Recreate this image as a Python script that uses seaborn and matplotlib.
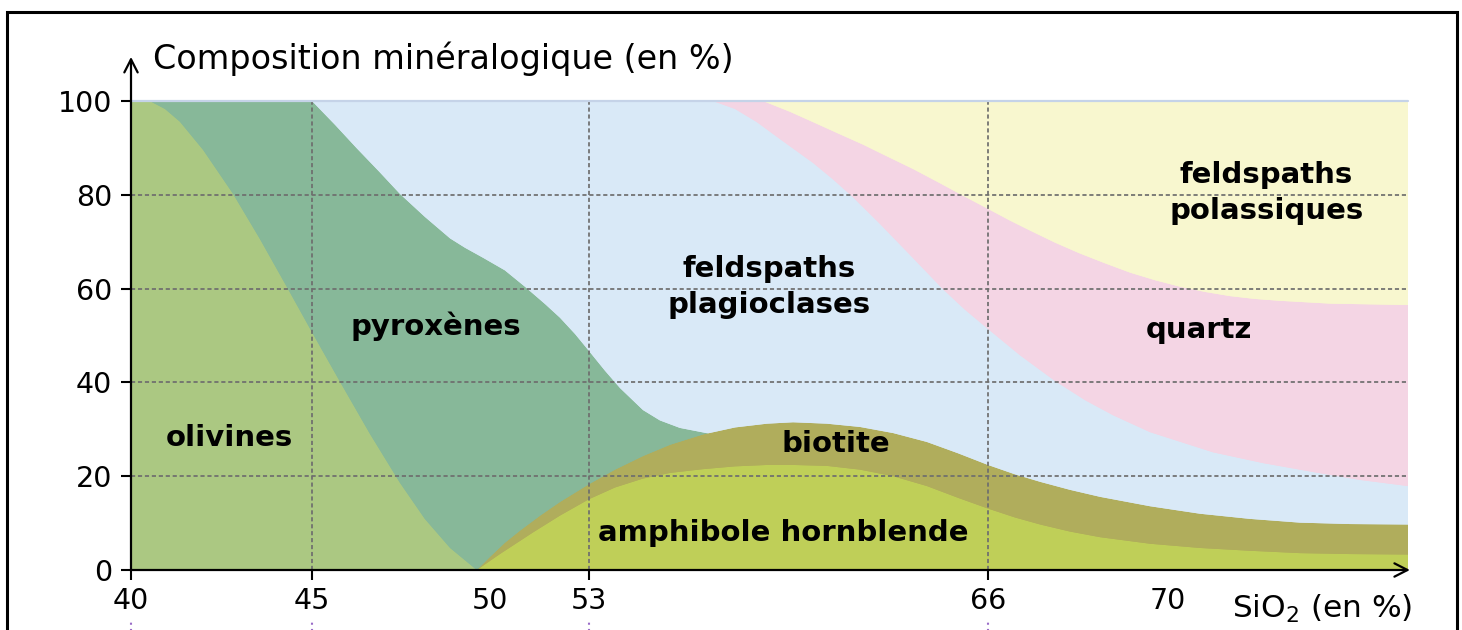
import numpy as np
import matplotlib
matplotlib.use("Agg")
import matplotlib.pyplot as plt
from matplotlib.patches import Rectangle, ArrowStyle
import seaborn as sns
import seaborn.objects as so

# ---------------- data (SiO2 % -> cumulative mineral %) ----------------
x_ticks = [40, 45, 50, 53, 66, 70]
x_tick_labels = ["40", "45", "50", "53", "66", "70"]
y_ticks = [0, 20, 40, 60, 80, 100]
grid_x = [45, 53, 66]
grid_y = [20, 40, 60, 80]

sio2_kfeld = [40, 75.33]
pct_kfeld = [100, 100]

sio2_quartz = [40, 58.67, 59.55, 60.3, 61.11, 61.93, 62.74, 63.56, 64.37, 65.19, 66,
               66.49, 66.93, 67.49, 68.04, 68.6, 69.16, 69.71, 70.27, 70.82, 71.38,
               71.93, 72.49, 73.6, 75.33]
pct_quartz = [100, 100, 97.7, 95.5, 93.1, 90.7, 88.1, 85.5, 82.7, 79.8, 77.0,
              74.5, 72.4, 69.8, 67.5, 65.4, 63.4, 61.8, 60.4, 59.3, 58.4,
              57.8, 57.4, 56.8, 56.5]

sio2_plag = [40, 57.04, 57.76, 58.47, 59.22, 60.3, 60.95, 61.6, 62.48, 63.56, 64.53,
             65.25, 66, 66.71, 67.49, 68.16, 68.78, 69.6, 71, 72.11, 73.22, 74.27, 75.33]
pct_plag = [100, 100, 98.3, 95.5, 91.9, 86.8, 83.3, 79.5, 73.8, 66.5, 59.9,
            55.5, 51.4, 45.8, 40.3, 36.2, 33.0, 29.4, 25.1, 22.8, 20.9, 19.2, 17.9]

sio2_pyrox = [40, 45, 45.65, 46.26, 46.88, 47.47, 48.17, 48.88, 49.3, 49.8, 50.45,
              51.06, 51.67, 52.12, 52.58, 53, 53.52, 54.01, 54.76, 55.31, 55.96, 56.9]
pct_pyrox = [100, 100, 94.9, 89.9, 85.0, 80.2, 75.3, 70.7, 68.7, 66.6, 63.9,
             60.4, 56.7, 53.8, 50.3, 46.7, 42.5, 38.8, 34.1, 31.9, 30.3, 29.1]

sio2_biotite = [49.63, 50, 50.45, 50.91, 51.52, 52.12, 53, 53.85, 54.76, 55.64, 56.71,
                57.76, 58.8, 59.65, 60.75, 61.83, 62.91, 64.01, 65.02, 66, 66.6,
                67.16, 67.82, 68.49, 69.6, 70.71, 71.82, 72.93, 74.04, 75.33]
pct_biotite = [0, 2.8, 5.8, 8.4, 11.6, 14.5, 18.3, 21.4, 24.3, 26.7, 28.9,
               30.4, 31.2, 31.5, 31.2, 30.5, 29.2, 27.3, 24.9, 22.4, 20.4,
               18.8, 17.1, 15.6, 13.6, 12.0, 10.9, 10.1, 9.8, 9.7]

sio2_amph = [49.63, 50.3, 51.3, 52.12, 53, 53.85, 54.76, 55.64, 56.71, 57.76, 58.8,
             59.65, 60.75, 61.83, 62.91, 64.01, 65.02, 66, 66.6, 67.16, 67.82,
             68.49, 69.6, 70.71, 71.82, 72.93, 74.04, 75.33]
pct_amph = [0, 3.4, 8.0, 11.6, 15.1, 17.6, 19.5, 20.7, 21.5, 22.1, 22.4,
            22.4, 22.2, 21.4, 20.0, 17.9, 15.4, 13.1, 11.2, 9.7, 8.2,
            7.0, 5.6, 4.7, 4.1, 3.6, 3.4, 3.3]

sio2_olivine = [40, 40.52, 40.94, 41.35, 41.99, 42.82, 43.56, 44.31, 45.03, 45.79,
                46.63, 47.47, 48.17, 48.88, 49.63]
pct_olivine = [100, 100, 98.3, 95.6, 89.6, 80.2, 70.6, 60.3, 50.3, 40.1,
               29.0, 18.6, 10.9, 4.7, 0]

# schematic (non-linear) SiO2 axis of the original figure
scale_sio2 = np.array([40, 45, 50, 53, 66, 70, 75.33])
scale_pos = np.array([0, 181, 359, 458, 857, 1037, 1277], dtype=float)


def _pw(x, xs, ys):
    x = np.asarray(x, dtype=float)
    y = np.interp(x, xs, ys)
    lo_s = (ys[1] - ys[0]) / (xs[1] - xs[0])
    hi_s = (ys[-1] - ys[-2]) / (xs[-1] - xs[-2])
    y = np.where(x < xs[0], ys[0] + (x - xs[0]) * lo_s, y)
    y = np.where(x > xs[-1], ys[-1] + (x - xs[-1]) * hi_s, y)
    return y


def fwd(x):
    return _pw(x, scale_sio2, scale_pos)


def inv(p):
    return _pw(p, scale_pos, scale_sio2)


# ---------------- figure ----------------
sns.set_theme(style="white")
plt.rcParams["font.family"] = ["DejaVu Sans"]
plt.rcParams["mathtext.default"] = "regular"

W, H = 1462, 630
fig = plt.figure(figsize=(W / 100, H / 100), dpi=100)
ax = fig.add_axes([131 / W, 60 / H, 1277 / W, 469 / H])

layers = [
    (sio2_kfeld, pct_kfeld, "#f8f7cf"),
    (sio2_quartz, pct_quartz, "#f4d5e4"),
    (sio2_plag, pct_plag, "#d9e9f7"),
    (sio2_pyrox, pct_pyrox, "#87b899"),
    (sio2_biotite, pct_biotite, "#b0ad5c"),
    (sio2_amph, pct_amph, "#bfcf58"),
    (sio2_olivine, pct_olivine, "#abc882"),
]

p = so.Plot().on(ax).theme(sns.axes_style("white"))
for xs, ys, c in layers:
    p = p.add(so.Area(color=c, alpha=1, edgewidth=0), x=xs, y=ys)
p.plot()
try:
    fig.set_layout_engine("none")
except Exception:
    pass

ax.set_xscale("function", functions=(fwd, inv))
ax.set_xlim(40, 75.33)
ax.set_ylim(0, 100)
ax.patch.set_visible(False)
ax.grid(False)
for s in ax.spines.values():
    s.set_visible(False)
ax.set_xlabel("")
ax.set_ylabel("")

# grid
dash = (0, (2.4, 1.6))
for yv in grid_y:
    ax.axhline(yv, color="#6e6e6e", lw=1.25, ls=dash, zorder=3)
for xv in grid_x:
    ax.axvline(xv, ymin=0, ymax=1, color="#6e6e6e", lw=1.25, ls=dash, zorder=3)
ax.axhline(100, color="#c5d3e8", lw=1.6, zorder=3, clip_on=False)

# ticks
ax.set_xticks(x_ticks)
ax.set_xticklabels(x_tick_labels)
ax.set_yticks(y_ticks)
ax.set_yticklabels([str(v) for v in y_ticks])
ax.minorticks_off()
ax.tick_params(axis="both", direction="out", length=7.5, width=1.5,
               color="black", labelsize=20.5, labelcolor="black")
ax.tick_params(axis="x", pad=5, bottom=True)
ax.tick_params(axis="y", pad=6, left=True)
for t, v in zip(ax.xaxis.get_major_ticks(), x_ticks):
    if v in (50, 70):
        t.tick1line.set_visible(False)

# axis arrows
arr = ArrowStyle("->", head_length=0.47, head_width=0.24)
ax.annotate("", xy=(1.0015, 0), xytext=(0, 0), xycoords="axes fraction",
            arrowprops=dict(arrowstyle=arr, lw=1.6, color="black",
                            shrinkA=0, shrinkB=0, mutation_scale=20),
            zorder=6, annotation_clip=False)
ax.annotate("", xy=(0, 1.094), xytext=(0, 0), xycoords="axes fraction",
            arrowprops=dict(arrowstyle=arr, lw=1.6, color="black",
                            shrinkA=0, shrinkB=0, mutation_scale=20),
            zorder=6, annotation_clip=False)

# purple dotted marks below the labels
ax.vlines([40, 45, 53, 66], -12.9, -10.6, colors="#9a6cc8", lw=1.5,
          linestyles=(0, (1, 2)), clip_on=False)

# mineral labels
lab = dict(ha="center", va="center", fontsize=21, fontweight="bold",
           color="black", zorder=5)
ax.text(42.71, 28.1, "olivines", **lab)
ax.text(48.48, 52.0, "pyroxènes", **lab)
ax.text(58.87, 60.4, "feldspaths\nplagioclases", linespacing=1.38, **lab)
ax.text(72.18, 80.4, "feldspaths\npolassiques", linespacing=1.38, **lab)
ax.text(70.69, 51.2, "quartz", **lab)
ax.text(61.05, 26.9, "biotite", **lab)
ax.text(59.32, 7.9, "amphibole hornblende", **lab)

# axis titles
fig.text(153 / W, (H - 69) / H, "Composition minéralogique (en %)",
         fontsize=24, ha="left", va="baseline", color="black")
fig.text(1412 / W, (H - 618) / H, "SiO$_2$ (en %)",
         fontsize=22.5, ha="right", va="baseline", color="black")

# outer frame
fig.patches.append(Rectangle((6.5 / W, -0.1), (1457 - 6.5) / W, (H - 11.5) / H + 0.1,
                             fill=False, lw=2.2, edgecolor="black",
                             transform=fig.transFigure, figure=fig))

fig.savefig("out.png", dpi=100)
